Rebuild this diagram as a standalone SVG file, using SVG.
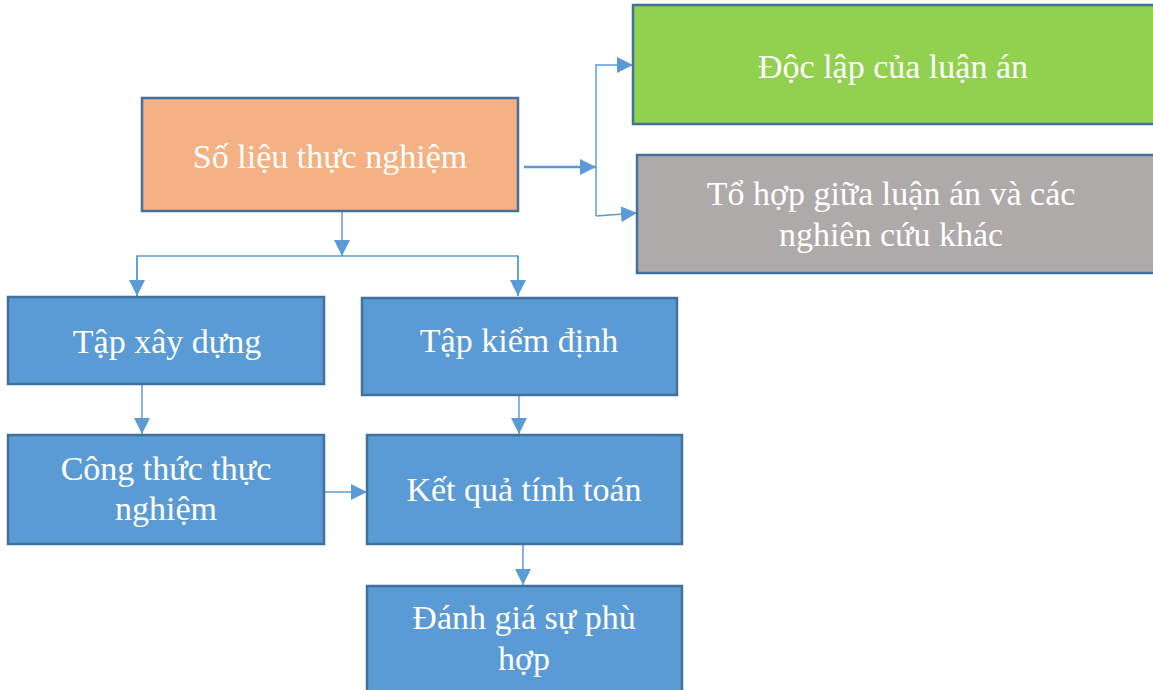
<svg xmlns="http://www.w3.org/2000/svg" width="1153" height="690" viewBox="0 0 1153 690">
<defs>
<marker id="ah" markerUnits="userSpaceOnUse" markerWidth="16" markerHeight="16" viewBox="0 0 16 16" refX="16" refY="8" orient="auto">
<path d="M0,0 L16,8 L0,16 Z" fill="#5B9BD5"/>
</marker>
<style>
.box{stroke:#41719C;stroke-width:2.5}
.blue{fill:#5B9BD5}
.t{font-family:"Liberation Serif","Times New Roman",serif;font-size:34px;fill:#FFFFFF;text-anchor:middle}
.c{fill:none;stroke:#5B9BD5;stroke-width:1.5}
</style>
</defs>
<rect width="1153" height="690" fill="#FFFFFF"/>
<g id="connectors">
<line class="c" x1="524" y1="167" x2="596" y2="167" marker-end="url(#ah)" style="stroke-width:2.5"/>
<line class="c" x1="596" y1="64" x2="596" y2="216"/>
<line class="c" x1="596" y1="65" x2="633" y2="65" marker-end="url(#ah)"/>
<line class="c" x1="596" y1="216" x2="637" y2="213" marker-end="url(#ah)"/>
<line class="c" x1="342" y1="211" x2="342" y2="256" marker-end="url(#ah)"/>
<polyline class="c" points="137,296 137,256 518,256 518,296"/>
<line class="c" x1="137" y1="256" x2="137" y2="296" marker-end="url(#ah)"/>
<line class="c" x1="518" y1="256" x2="518" y2="296" marker-end="url(#ah)"/>
<line class="c" x1="142" y1="384" x2="142" y2="434" marker-end="url(#ah)"/>
<line class="c" x1="519" y1="395" x2="519" y2="434" marker-end="url(#ah)"/>
<line class="c" x1="324" y1="492" x2="367" y2="492" marker-end="url(#ah)"/>
<line class="c" x1="523" y1="544" x2="523" y2="585" marker-end="url(#ah)"/>
</g>
<g id="so-lieu">
<rect class="box" x="142" y="98" width="376" height="113" fill="#F4B183"/>
<text class="t" x="330" y="168">Số liệu thực nghiệm</text>
</g>
<g id="doc-lap">
<rect class="box" x="633" y="5" width="530" height="119" fill="#92D050"/>
<text class="t" x="893" y="78">Độc lập của luận án</text>
</g>
<g id="to-hop">
<rect class="box" x="637" y="155" width="526" height="118" fill="#AEAAAA"/>
<text class="t" x="891" y="205">Tổ hợp giữa luận án và các</text>
<text class="t" x="891" y="246">nghiên cứu khác</text>
</g>
<g id="tap-xay-dung">
<rect class="box blue" x="8" y="297" width="316" height="87"/>
<text class="t" x="167" y="353">Tập xây dựng</text>
</g>
<g id="tap-kiem-dinh">
<rect class="box blue" x="362" y="298" width="315" height="97"/>
<text class="t" x="519" y="352">Tập kiểm định</text>
</g>
<g id="cong-thuc">
<rect class="box blue" x="8" y="435" width="316" height="109"/>
<text class="t" x="166" y="480">Công thức thực</text>
<text class="t" x="166" y="520">nghiệm</text>
</g>
<g id="ket-qua">
<rect class="box blue" x="367" y="435" width="315" height="109"/>
<text class="t" x="524" y="501">Kết quả tính toán</text>
</g>
<g id="danh-gia">
<rect class="box blue" x="367" y="586" width="315" height="115"/>
<text class="t" x="524" y="629">Đánh giá sự phù</text>
<text class="t" x="524" y="670">hợp</text>
</g>
</svg>
